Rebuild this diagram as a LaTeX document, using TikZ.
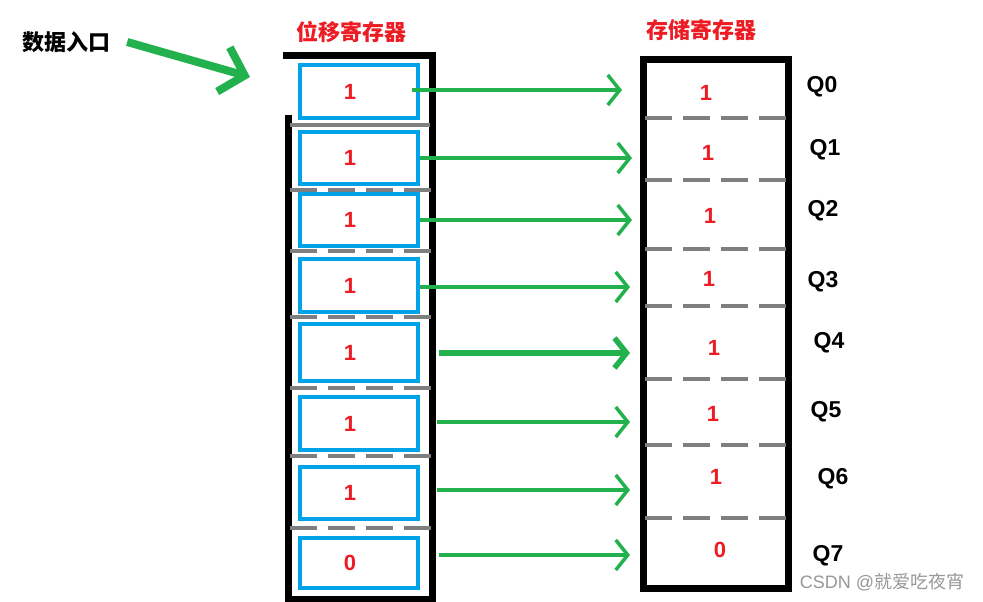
\documentclass[tikz,border=0pt]{standalone}
\usepackage{fontspec}
\setmainfont{Liberation Sans}
\newfontfamily\cjk{Noto Sans CJK SC}
\usetikzlibrary{positioning,arrows.meta,calc}
\definecolor{cellc}{RGB}{0,162,232}
\definecolor{flowc}{RGB}{34,177,76}
\definecolor{bitc}{RGB}{237,28,36}
\definecolor{sepc}{RGB}{127,127,127}
\tikzset{
  frame/.style  = {draw=black, line width=7pt},
  cell/.style   = {draw=cellc, line width=4pt, minimum width=118pt, inner sep=0pt},
  sepline/.style= {draw=sepc, line width=4pt, dash pattern=on 27pt off 11pt},
  flow/.style   = {-{Straight Barb[length=12pt,width=30pt]}, draw=flowc, line width=3.5pt},
  bitval/.style = {font=\fontsize{22}{24}\selectfont\bfseries, text=bitc, inner sep=0pt},
  qlabel/.style = {font=\fontsize{23}{25}\selectfont\bfseries, inner sep=0pt},
  title/.style  = {font=\cjk\bfseries\fontsize{22}{24}\selectfont, text=bitc, inner sep=0pt},
}
\begin{document}
\begin{tikzpicture}[x=1pt,y=-1pt]
\useasboundingbox[fill=white] (0,0) rectangle (983,602);

% titles
\node[font=\cjk\bfseries\fontsize{22}{24}\selectfont, inner sep=0pt] (entry) at (67,42) {数据入口};
\node[title] (shtitle) at (351,32) {位移寄存器};
\node[title] (sttitle) at (701,30) {存储寄存器};

% shift register frame and separators
\draw[frame] (288,115) -- (288,599) -- (432,599) -- (432,56) -- (283,56);
\draw[draw=sepc, line width=4pt] (290,125) -- (430,125);
\foreach \y in {190,251,317,388,456,528}
  \draw[sepline] (290,\y) -- (432,\y);

% storage register frame and separators
\draw[frame] (643,60) rectangle (788,588);
\foreach \y in {118,180,249,306,379,445,518}
  \draw[sepline] (645,\y) -- (788,\y);

% shift register cells
\foreach \i/\y/\h/\b in {0/91.5/53/1, 1/158/52/1, 2/220/52/1, 3/285.5/53/1,
                         4/352.5/57/1, 5/423.5/53/1, 6/493/52/1, 7/563/50/0} {
  \node[cell, minimum height=\h pt] (s\i) at (358.5,\y) {};
  \node[bitval] (b\i) at (350,\y) {\b};
}

% storage values and outputs
\foreach \i/\x/\y/\qx/\qy/\b in {0/706/93/822/87/1, 1/708/153/825/150/1, 2/710/216/823/211/1,
                                 3/709/279/823/282/1, 4/714/348/829/343/1, 5/713/414/826/412/1,
                                 6/716/477/833/479/1, 7/720/550/828/556/0} {
  \node[bitval] (v\i) at (\x,\y) {\b};
  \node[qlabel] (q\i) at (\qx,\qy) {Q\i};
}

% parallel transfer
\foreach \i/\y/\ex/\dx/\w in {0/90/622/-8/3.5, 1/158/632/0/3.5, 2/220/632/0/3.5, 3/287/630/0/3.5,
                              4/353/630/19/5.5, 5/422/630/17/3.5, 6/490/630/17/3.5, 7/555/630/19/3.5} {
  \coordinate (in\i) at (\ex,\y);
  \draw[flow, line width=\w pt] ($(s\i.east |- in\i)+(\dx,0)$) -- (in\i);
}

% serial input
\coordinate (inlet) at (250,77);
\draw[flow, line width=8pt, -{Straight Barb[length=22pt,width=46pt]}] ($(entry.east)+(16,0)$) -- (inlet);

\node[text=sepc!80, font=\fontsize{18}{20}\selectfont, inner sep=0pt] (mark) at (882,582)
  {CSDN @{\cjk 就爱吃夜宵}};
\end{tikzpicture}
\end{document}
